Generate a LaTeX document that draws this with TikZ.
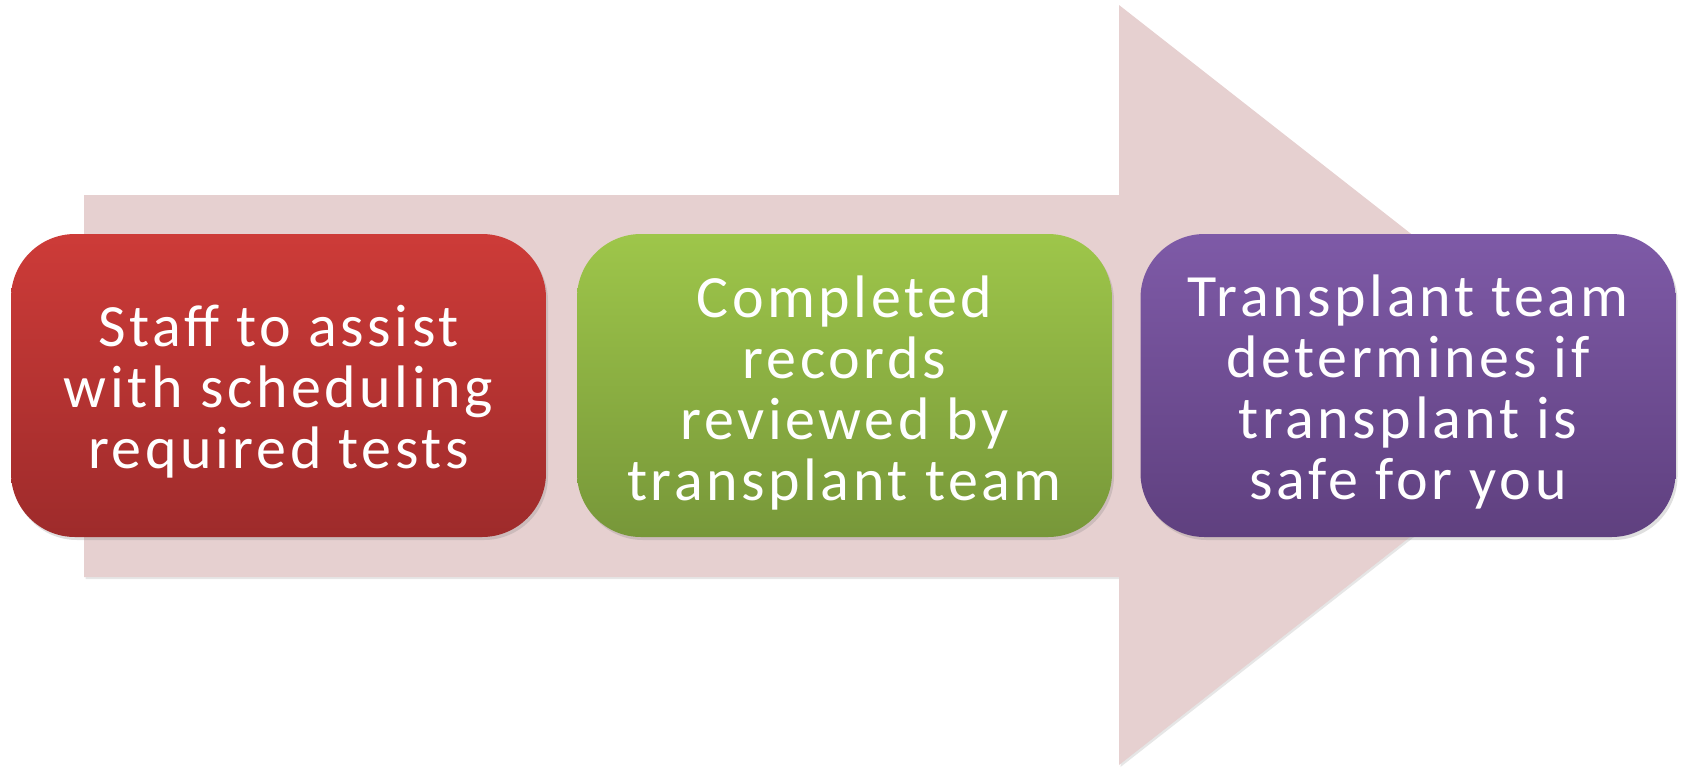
\documentclass[tikz,border=0pt]{standalone}
\usepackage{fontspec}
\setmainfont[LetterSpace=6]{Carlito}
\usetikzlibrary{shadows}
\definecolor{arrowpink}{HTML}{E6D0D0}
\definecolor{redtop}{HTML}{CD3B38}
\definecolor{redbot}{HTML}{9E2B2B}
\definecolor{greentop}{HTML}{9EC64A}
\definecolor{greenbot}{HTML}{779739}
\definecolor{purptop}{HTML}{7E5AA7}
\definecolor{purpbot}{HTML}{5F407F}
\tikzset{
  stepbox/.style={rounded corners=64pt, minimum width=535pt, minimum height=303pt,
    inner sep=0pt,
    drop shadow={opacity=0.25, shadow xshift=2pt, shadow yshift=-3pt}},
  steptext/.style={align=center, text=white, inner sep=0pt,
    font=\fontsize{60}{61}\selectfont},
  arrowshape/.style={fill=arrowpink, drop shadow={opacity=0.2, shadow xshift=1.5pt, shadow yshift=-2pt}}
}
\begin{document}
\begin{tikzpicture}[x=1pt,y=-1pt]
\useasboundingbox (0,0) rectangle (1684,769);
\path[arrowshape] (84,195) -- (1119,195) -- (1119,5) -- (1604,385) -- (1119,765) -- (1119,577) -- (84,577) -- cycle;
\node[stepbox, top color=redtop, bottom color=redbot] (s1) at (278.5,385.5) {};
\node[stepbox, top color=greentop, bottom color=greenbot] (s2) at (844.5,385.5) {};
\node[stepbox, top color=purptop, bottom color=purpbot] (s3) at (1408,385.5) {};
\node[steptext] (t1) at ([yshift=-6pt]s1.center) {Staff to assist\\with scheduling\\required tests};
\node[steptext] (t2) at ([yshift=-7pt]s2.center) {Completed\\records\\reviewed by\\transplant team};
\node[steptext] (t3) at ([yshift=-6pt]s3.center) {Transplant team\\determines if\\transplant is\\safe for you};
\end{tikzpicture}
\end{document}
